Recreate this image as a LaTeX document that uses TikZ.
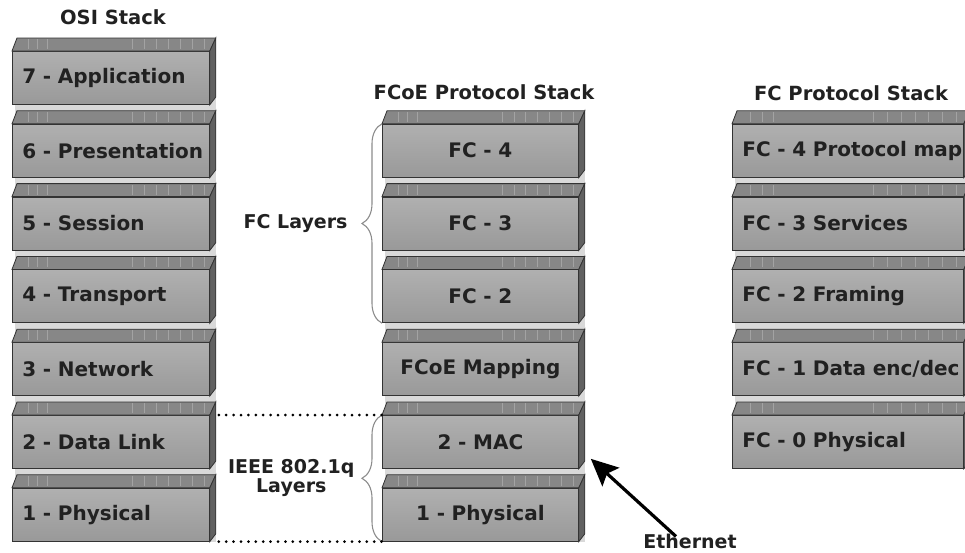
\documentclass[tikz,border=0pt]{standalone}
\usepackage{fontspec}
\setmainfont{DejaVu Sans}
\usetikzlibrary{arrows.meta,positioning,calc,backgrounds,decorations.pathreplacing}
\tikzset{lay/.style={draw=black!80,line width=.8pt,top color=black!31,bottom color=black!40,minimum height=53pt,inner xsep=10pt,inner ysep=0pt,font=\bfseries\fontsize{20}{21}\selectfont,text=black!87,anchor=north west},
 topf/.style={draw=black!80,line width=.8pt,fill=black!47},
 sidef/.style={draw=black!80,line width=.8pt,fill=black!62},
 strp/.style={draw=black!36,line width=.5pt},
 colbg/.style={fill=black!15},
 hd/.style={font=\bfseries\fontsize{19.5}{20}\selectfont,text=black!87},
 lbl/.style={font=\bfseries\fontsize{19}{17.5}\selectfont,text=black!87,inner sep=0pt},
 brc/.style={draw=black!45,line width=1.1pt,decorate,decoration={brace,amplitude=20pt}},
 dots/.style={line width=3pt,line cap=round,dash pattern=on 0pt off 7.4pt},
 ethar/.style={-{Stealth[length=27pt,width=25pt,inset=5pt]},line width=3.2pt}}
% one 3d layer block: name, x, row, width, align, text
\newcommand\layer[6]{%
 \pgfmathsetmacro\tw{#4-20}
 \node[lay,minimum width=#4,text width=\tw pt,align=#5] (#1) at (#2,{51+72.8*#3}) {\mbox{#6}};
 \filldraw[topf] (#1.north west) -- ++(5,-13) -- ([shift={(6,-13)}]#1.north east) -- (#1.north east) -- cycle;
 \filldraw[sidef] (#1.north east) -- ++(6,-13) -- ++(0,59) -- (#1.south east) -- cycle;
 \foreach \f in {.07,.12,.17,.6,.66,.72,.78,.84,.9,.96}
  {\draw[strp] ($(#1.north west)!\f!(#1.north east)+(2,-2)$) -- ++(0,-10);}
}
\begin{document}
\begin{tikzpicture}[x=1pt,y=-1pt]
\useasboundingbox (0,0) rectangle (965,552);
% OSI
\node[hd] (osih) at (113,17) {OSI Stack};
\layer{osi7}{12}{0}{197}{left}{7 - Application}
\layer{osi6}{12}{1}{197}{left}{6 - Presentation}
\layer{osi5}{12}{2}{197}{left}{5 - Session}
\layer{osi4}{12}{3}{197}{left}{4 - Transport}
\layer{osi3}{12}{4}{197}{left}{3 - Network}
\layer{osi2}{12}{5}{197}{left}{2 - Data Link}
\layer{osi1}{12}{6}{197}{left}{1 - Physical}
% FCoE
\node[hd] (fcoeh) at (484,92) {FCoE Protocol Stack};
\layer{fc4}{382}{1}{196}{center}{FC - 4}
\layer{fc3}{382}{2}{196}{center}{FC - 3}
\layer{fc2}{382}{3}{196}{center}{FC - 2}
\layer{map}{382}{4}{196}{center}{FCoE Mapping}
\layer{mac}{382}{5}{196}{center}{2 - MAC}
\layer{phy}{382}{6}{196}{center}{1 - Physical}
% FC
\node[hd] (fch) at (851,93) {FC Protocol Stack};
\layer{fcs4}{732}{1}{231}{left}{FC - 4 Protocol map}
\layer{fcs3}{732}{2}{231}{left}{FC - 3 Services}
\layer{fcs2}{732}{3}{231}{left}{FC - 2 Framing}
\layer{fcs1}{732}{4}{231}{left}{FC - 1 Data enc/dec}
\layer{fcs0}{732}{5}{231}{left}{FC - 0 Physical}
\begin{scope}[on background layer]
\fill[colbg] ([xshift=3]osi7.north west) rectangle ([xshift=6]osi1.south east);
\fill[colbg] ([xshift=3]fc4.north west) rectangle ([xshift=6]phy.south east);
\fill[colbg] ([xshift=3]fcs4.north west) rectangle ([xshift=6]fcs0.south east);
\end{scope}
% braces, dotted guides, ethernet
\draw[brc] (fc2.south west) -- node[lbl,left=34pt] (fclay) {FC Layers} (fc4.north west);
\draw[brc] (phy.south west) -- node[lbl,left=27pt,align=center] (ieee) {IEEE 802.1q\\Layers} (mac.north west);
\draw[dots] ([xshift=9]osi2.north east) -- (mac.north west);
\draw[dots] ([xshift=9]osi1.south east) -- (phy.south west);
\node[lbl] (eth) at (690,541) {Ethernet};
\draw[ethar] ([xshift=-14,yshift=-3]eth.north) -- ([shift={(12,-10)}]mac.south east);
\end{tikzpicture}
\end{document}
